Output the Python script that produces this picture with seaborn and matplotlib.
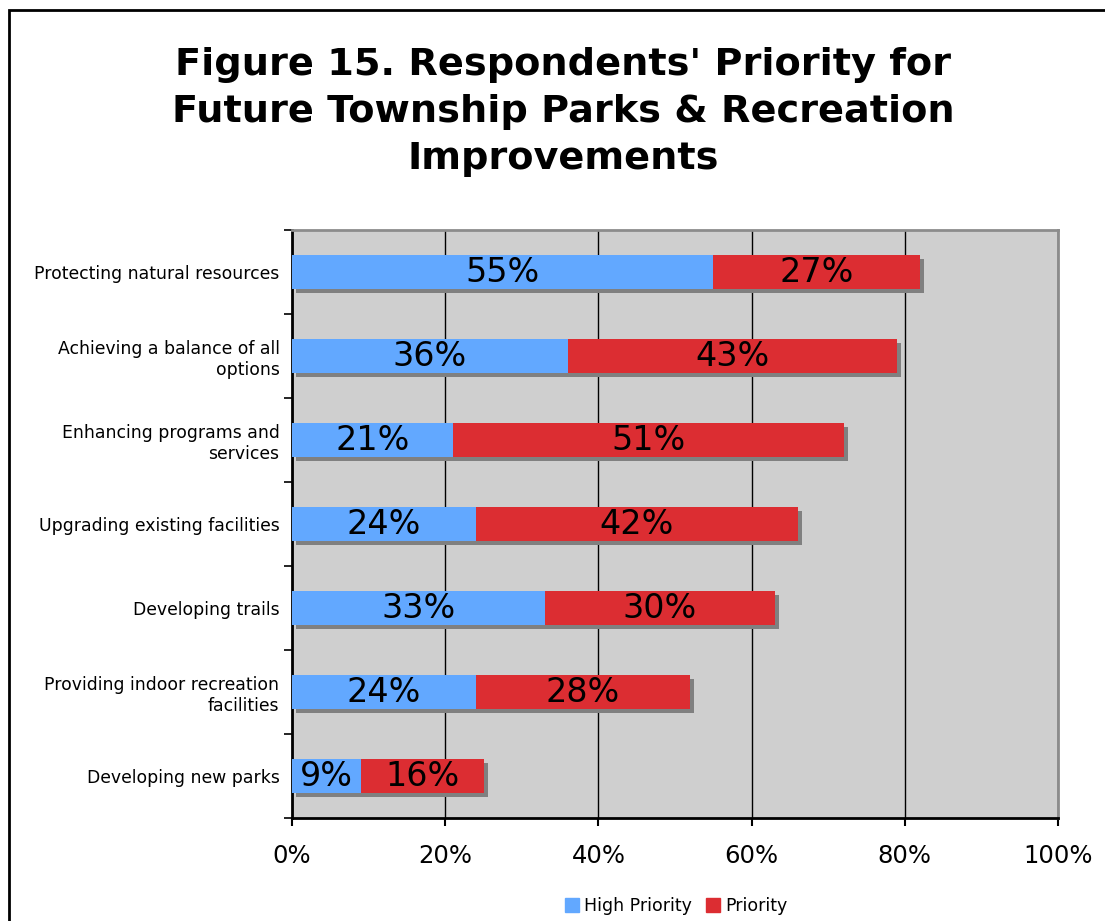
import pandas as pd
import matplotlib.pyplot as plt
import matplotlib.patches as mpatches
import matplotlib.patheffects as pe
import seaborn as sns
from matplotlib.ticker import FixedLocator, PercentFormatter

# -------------------------------
# Data
# -------------------------------
categories = [
    "Protecting natural resources",
    "Achieving a balance of all\noptions",
    "Enhancing programs and\nservices",
    "Upgrading existing facilities",
    "Developing trails",
    "Providing indoor recreation\nfacilities",
    "Developing new parks",
]
high_priority = [55, 36, 21, 24, 33, 24, 9]
priority = [27, 43, 51, 42, 30, 28, 16]

blue = "#62A8FF"
red = "#DC2D32"

df = pd.DataFrame({"Category": categories, "High": high_priority, "Priority": priority})
df["Total"] = df["High"] + df["Priority"]

# -------------------------------
# Figure
# -------------------------------
sns.set_style("white")
plt.rcParams["font.family"] = ["DejaVu Sans"]
plt.rcParams["text.color"] = "black"
plt.rcParams["xtick.color"] = "black"
plt.rcParams["ytick.color"] = "black"
plt.rcParams["axes.labelcolor"] = "black"

fig = plt.figure(figsize=(11.05, 9.21), dpi=100)
ax = fig.add_axes([292 / 1105, 1 - 818 / 921, (1058 - 292) / 1105, (818 - 230) / 921])
ax.set_facecolor("#CFCFCF")

# stacked: total bar (red, with shadow) then high priority bar on top (blue)
sns.barplot(data=df, x="Total", y="Category", color=red, saturation=1, width=0.4,
            orient="h", ax=ax, zorder=3)
for p in ax.patches:
    p.set_path_effects([pe.SimplePatchShadow(offset=(3, -3), shadow_rgbFace="#808080", alpha=1), pe.Normal()])
    p.set_edgecolor("none")
n_red = len(ax.patches)
sns.barplot(data=df, x="High", y="Category", color=blue, saturation=1, width=0.4,
            orient="h", ax=ax, zorder=4)
for p in ax.patches[n_red:]:
    p.set_edgecolor("none")

# value labels centered in each segment
for i, (h, pr) in enumerate(zip(high_priority, priority)):
    ax.text(h / 2, i, f"{h}%", ha="center", va="center", fontsize=24, zorder=6)
    ax.text(h + pr / 2, i, f"{pr}%", ha="center", va="center", fontsize=24, zorder=6)

# axes
ax.set_xlim(0, 100)
ax.set_ylim(len(categories) - 0.5, -0.5)
ax.set_xlabel("")
ax.set_ylabel("")
ax.xaxis.set_major_locator(FixedLocator([0, 20, 40, 60, 80, 100]))
ax.xaxis.set_major_formatter(PercentFormatter(decimals=0))
ax.grid(axis="x", color="black", lw=1, zorder=1)
ax.set_axisbelow(True)
ax.tick_params(axis="x", length=6, width=1.5, labelsize=17.5, pad=13, direction="out", bottom=True)
ax.tick_params(axis="y", which="major", length=0, labelsize=12.4, pad=9)
ax.yaxis.set_minor_locator(FixedLocator([i - 0.5 for i in range(len(categories) + 1)]))
ax.tick_params(axis="y", which="minor", length=6, width=1.2, direction="out", left=True)

for side in ["left", "bottom"]:
    ax.spines[side].set_color("black")
    ax.spines[side].set_linewidth(2)
for side in ["top", "right"]:
    ax.spines[side].set_color("#8C8C8C")
    ax.spines[side].set_linewidth(2)

# legend
handles = [mpatches.Patch(color=blue, label="High Priority"),
           mpatches.Patch(color=red, label="Priority")]
fig.legend(handles=handles, loc="center", bbox_to_anchor=(0.612, 1 - 906 / 921), ncol=2,
           frameon=False, fontsize=12.5, handlelength=0.8, handleheight=0.8,
           handletextpad=0.3, columnspacing=0.8)

# title
fig.text(563 / 1105, 1 - 112 / 921,
         "Figure 15. Respondents' Priority for\nFuture Township Parks & Recreation\nImprovements",
         ha="center", va="center", fontsize=27.5, fontweight="bold", linespacing=1.38)

# outer frame
fig.patches.append(mpatches.Rectangle((9 / 1105, -0.1), 1.2, 1 - 10 / 921 + 0.1,
                                      transform=fig.transFigure, fill=False,
                                      edgecolor="black", lw=2, clip_on=False))

fig.savefig("out.png", dpi=100)
